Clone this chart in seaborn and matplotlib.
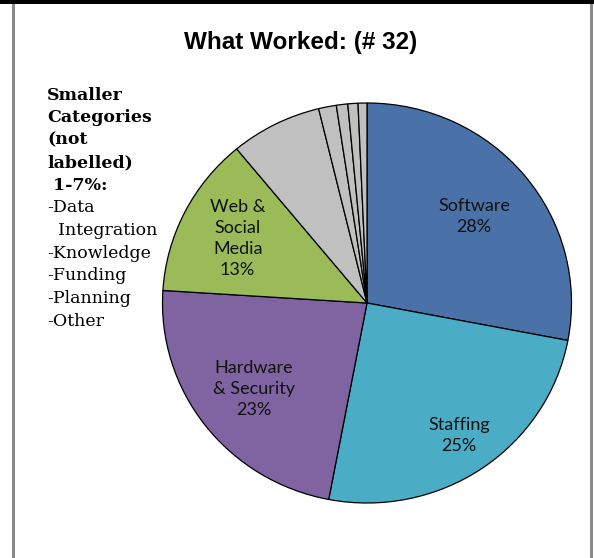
import matplotlib
matplotlib.use("Agg")
import matplotlib.pyplot as plt
import matplotlib.patches as mpatches
import numpy as np
import seaborn as sns

# ---- data ----
categories = ["Software", "Staffing", "Hardware\n& Security", "Web &\nSocial\nMedia",
              "Data Integration", "Knowledge", "Funding", "Planning", "Other"]
values = [28, 25, 23, 13, 7.2, 1.4, 0.9, 0.8, 0.7]
pct_labels = ["28%", "25%", "23%", "13%", "", "", "", "", ""]
colors = ["#4A72A8", "#4BACC6", "#8064A2", "#9BBB59",
          "#C0C0C0", "#C0C0C0", "#C0C0C0", "#C0C0C0", "#C0C0C0"]
label_radius = [0.68, 0.80, 0.70, 0.71]
title = "What Worked: (# 32)"
note_bold = ["Smaller", "Categories", "(not", "labelled)", " 1-7%:"]
note_regular = ["-Data", "  Integration", "-Knowledge", "-Funding", "-Planning", "-Other"]

sns.set_theme(style="white")
plt.rcParams["font.family"] = ["Lato", "DejaVu Sans"]

W, H = 594, 558
fig = plt.figure(figsize=(W / 100, H / 100), dpi=100)
fig.patch.set_facecolor("white")

# borders
fig.add_artist(mpatches.Rectangle((0, 1 - 4 / H), 1, 4 / H, transform=fig.transFigure,
                                  facecolor="black", edgecolor="none"))
fig.add_artist(mpatches.Rectangle((12 / W, 0), 3 / W, 1 - 4 / H, transform=fig.transFigure,
                                  facecolor="#8a8a8a", edgecolor="none"))
fig.add_artist(mpatches.Rectangle((590 / W, 0), 3 / W, 1 - 4 / H, transform=fig.transFigure,
                                  facecolor="#8a8a8a", edgecolor="none"))

# pie axes: center (367, 303) px from top, rx 204.5, ry 200
cx, cy, rx, ry = 367, 303, 204.5, 200
ax = fig.add_axes([(cx - rx) / W, (H - cy - ry) / H, 2 * rx / W, 2 * ry / H])
wedges, _ = ax.pie(values, colors=colors, startangle=90, counterclock=False,
                   wedgeprops=dict(edgecolor="black", linewidth=0.9))
ax.set_xlim(-1, 1)
ax.set_ylim(-1, 1)
ax.set_aspect("auto")
ax.axis("off")

for i, w in enumerate(wedges[:4]):
    ang = np.deg2rad((w.theta1 + w.theta2) / 2)
    r = label_radius[i]
    ax.text(r * np.cos(ang), r * np.sin(ang), categories[i] + "\n" + pct_labels[i],
            ha="center", va="center", fontsize=13, color="#111111",
            linespacing=1.4)

fig.text(301 / W, 1 - 42 / H, title, ha="center", va="center", color="black",
         fontsize=17.5, fontweight="bold", family=["Liberation Sans", "DejaVu Sans"])

y0 = 95
step = 22.6
for k, line in enumerate(note_bold + note_regular):
    fig.text(47 / W, 1 - (y0 + k * step) / H, line, ha="left", va="center",
             fontsize=12.5, fontweight="bold" if k < len(note_bold) else "normal",
             family=["DejaVu Serif"], color="black")

fig.savefig("out.png", dpi=100, facecolor="white")
